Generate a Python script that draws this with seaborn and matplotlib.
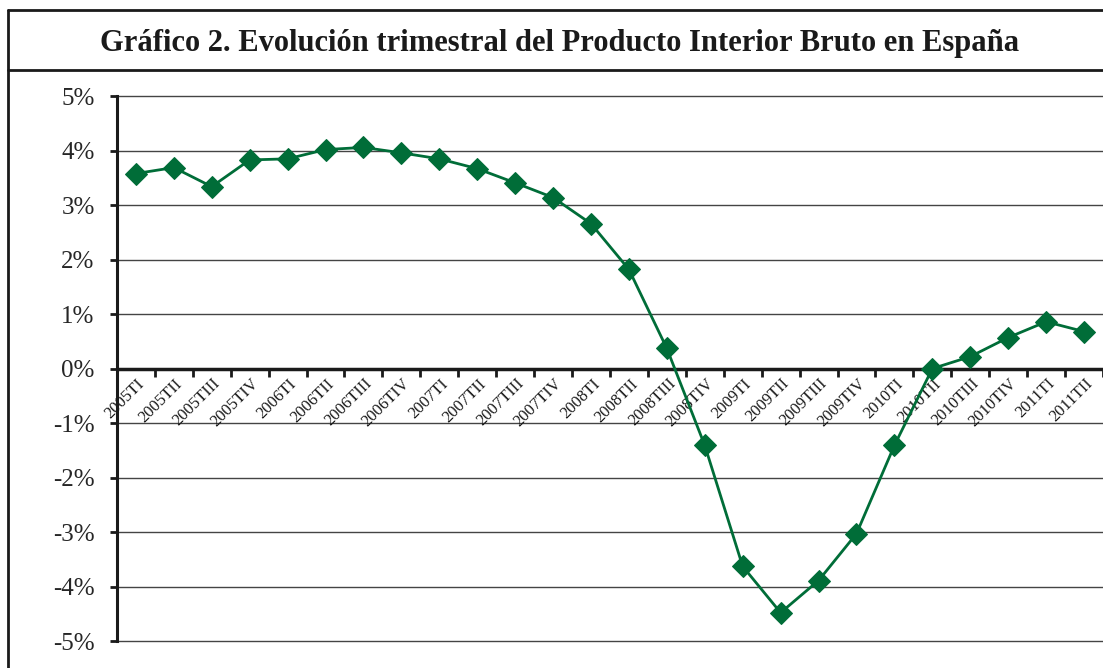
import numpy as np
import pandas as pd
import seaborn as sns
import matplotlib.pyplot as plt
from matplotlib.lines import Line2D
from matplotlib.ticker import FuncFormatter, FixedLocator, NullFormatter

# --- DATA ---
quarters = ['2005TI', '2005TII', '2005TIII', '2005TIV',
            '2006TI', '2006TII', '2006TIII', '2006TIV',
            '2007TI', '2007TII', '2007TIII', '2007TIV',
            '2008TI', '2008TII', '2008TIII', '2008TIV',
            '2009TI', '2009TII', '2009TIII', '2009TIV',
            '2010TI', '2010TII', '2010TIII', '2010TIV',
            '2011TI', '2011TII']
pib_growth = [3.58, 3.69, 3.34, 3.83,
              3.85, 4.02, 4.06, 3.96,
              3.85, 3.67, 3.41, 3.14,
              2.66, 1.82, 0.37, -1.41,
              -3.63, -4.48, -3.89, -3.03,
              -1.41, 0.0, 0.22, 0.57,
              0.86, 0.68]
y_ticks = [-5, -4, -3, -2, -1, 0, 1, 2, 3, 4, 5]

title = 'Gráfico 2. Evolución trimestral del Producto Interior Bruto en España'

df = pd.DataFrame({'pos': np.arange(len(quarters)), 'quarter': quarters, 'pib': pib_growth})

sns.set_theme(style='white')
plt.rcParams['font.family'] = ['Liberation Serif', 'DejaVu Serif']

fig = plt.figure(figsize=(11.03, 6.68), dpi=100)
ax = fig.add_axes([0.106, 0.0404, 0.894, 0.8156])

green = '#006d38'
sns.lineplot(data=df, x='pos', y='pib', ax=ax, color=green, linewidth=2,
             marker='D', markersize=11, markeredgecolor=green, sort=False, zorder=5)

ax.set_xlim(-0.5, len(quarters) - 0.5)
ax.set_ylim(-5, 5)
ax.set_xlabel('')
ax.set_ylabel('')

# horizontal gridlines
for yv in y_ticks:
    if yv != 0:
        ax.axhline(yv, color='#444444', linewidth=1, zorder=0, clip_on=False)

# axis spines
for s in ['top', 'right', 'bottom']:
    ax.spines[s].set_visible(False)
ax.spines['left'].set_linewidth(2.2)
ax.spines['left'].set_color('#1a1a1a')
ax.axhline(0, color='#1a1a1a', linewidth=2.5, zorder=1)

ax.set_yticks(y_ticks)
ax.yaxis.set_major_formatter(FuncFormatter(lambda v, p: f'{int(v)}%'))
ax.tick_params(axis='y', which='major', length=5, width=2, color='#1a1a1a',
               labelsize=18, pad=11, left=True)

# tick marks at category boundaries, hanging from the zero line
ax.set_xticks([])
ax.xaxis.set_minor_locator(FixedLocator(np.arange(-0.5, len(quarters), 1.0)))
ax.xaxis.set_minor_formatter(NullFormatter())
ax.spines['bottom'].set_position(('data', 0))
ax.tick_params(axis='x', which='minor', length=6, width=2, color='#1a1a1a', bottom=True)

# rotated category labels below the zero line
for p, q in zip(df['pos'], quarters):
    ax.text(p + 0.02, -0.13, q, rotation=45, rotation_mode='anchor',
            ha='right', va='top', fontsize=12, color='#1a1a1a', zorder=2)

# outer frame and title box
fig.add_artist(Line2D([8 / 1103, 8 / 1103], [0, 1 - 10 / 668], color='#1a1a1a', linewidth=2))
fig.add_artist(Line2D([8 / 1103, 1], [1 - 10 / 668, 1 - 10 / 668], color='#1a1a1a', linewidth=2))
fig.add_artist(Line2D([8 / 1103, 1], [1 - 70 / 668, 1 - 70 / 668], color='#1a1a1a', linewidth=2))
fig.text(0.507, 1 - 43 / 668, title, ha='center', va='center',
         fontsize=22, fontweight='bold', color='#1a1a1a')

plt.savefig('out.png', dpi=100)
